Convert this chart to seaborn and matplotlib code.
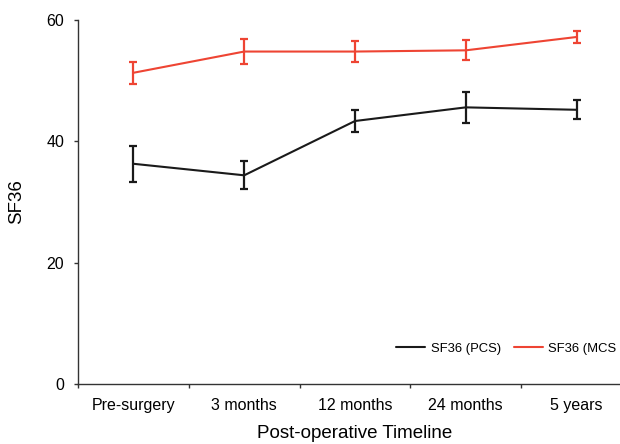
import matplotlib
matplotlib.use("Agg")
import matplotlib.pyplot as plt
import seaborn as sns
import pandas as pd
import numpy as np
from matplotlib.ticker import FixedLocator, NullFormatter, FixedFormatter

categories = ["Pre-surgery", "3 months", "12 months", "24 months", "5 years"]
pcs_mean = [36.3, 34.4, 43.35, 45.6, 45.2]
pcs_err = [2.95, 2.3, 1.85, 2.5, 1.6]
mcs_mean = [51.3, 54.8, 54.8, 55.0, 57.2]
mcs_err = [1.8, 2.1, 1.75, 1.65, 1.05]
series_names = ["SF36 (PCS)", "SF36 (MCS"]
colors = ["#1a1a1a", "#EE4433"]
y_ticks = [0, 20, 40, 60]

sns.set_style("white")
plt.rcParams["font.family"] = ["Liberation Sans", "DejaVu Sans"]
plt.rcParams["text.color"] = "black"
plt.rcParams["axes.labelcolor"] = "black"

fig = plt.figure(figsize=(6.2, 4.44), dpi=100)
ax = fig.add_axes([78 / 620, 60 / 444, (632 - 78) / 620, 364 / 444])

df = pd.DataFrame({
    "time": categories * 2,
    "value": pcs_mean + mcs_mean,
    "err": pcs_err + mcs_err,
    "series": [series_names[0]] * 5 + [series_names[1]] * 5,
})

sns.lineplot(data=df, x="time", y="value", hue="series", palette=colors,
             linewidth=1.5, ax=ax, legend=False, sort=False)

xpos = np.arange(len(categories))
for name, col in zip(series_names, colors):
    sub = df[df["series"] == name]
    ax.errorbar(xpos, sub["value"], yerr=sub["err"], fmt="none", ecolor=col,
                elinewidth=1.6, capsize=3.2, capthick=1.6)

ax.set_xlim(-0.5, 4.5)
ax.set_ylim(0, 60)
ax.set_yticks(y_ticks)
ax.yaxis.set_major_formatter(FixedFormatter([str(t) for t in y_ticks]))

ax.xaxis.set_major_locator(FixedLocator(np.arange(-0.5, 5.0, 1.0)))
ax.xaxis.set_major_formatter(NullFormatter())
ax.xaxis.set_minor_locator(FixedLocator(xpos))
ax.xaxis.set_minor_formatter(FixedFormatter(categories))
ax.tick_params(axis="x", which="minor", length=0, pad=10, labelsize=11.5, colors="black")
ax.tick_params(axis="x", which="major", length=3, width=1, direction="out", color="#333333")
ax.tick_params(axis="y", length=3, width=1, direction="out", pad=7, labelsize=11.5,
               color="#333333", labelcolor="black")
ax.tick_params(left=True, bottom=True)

for s in ["top", "right"]:
    ax.spines[s].set_visible(False)
for s in ["left", "bottom"]:
    ax.spines[s].set_color("#333333")
    ax.spines[s].set_linewidth(1.0)

ax.set_xlabel("Post-operative Timeline", fontsize=13.5, labelpad=9, color="black")
ax.set_ylabel("SF36", fontsize=13.5, labelpad=15, color="black")

handles = [plt.Line2D([], [], color=c, linewidth=1.5) for c in colors]
fig.legend(handles, series_names, loc="center left",
           bbox_to_anchor=(396 / 620, 1 - 349 / 444), ncol=2, frameon=False,
           fontsize=9.4, handlelength=2.2, handletextpad=0.45, columnspacing=1.0,
           borderpad=0, borderaxespad=0)

fig.savefig("out.png", dpi=100)
